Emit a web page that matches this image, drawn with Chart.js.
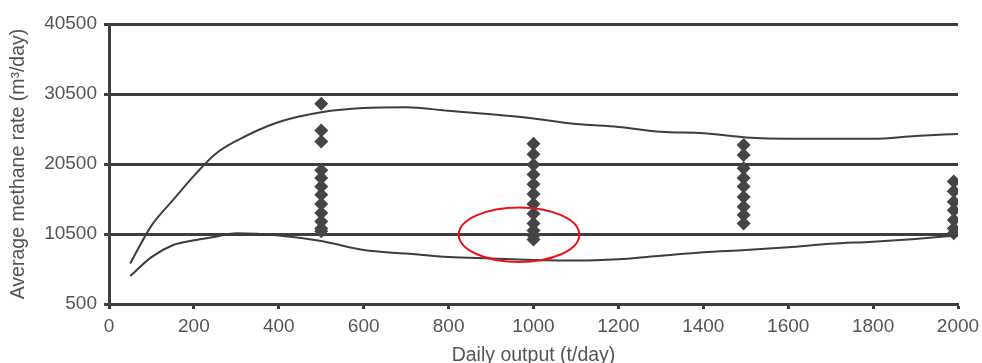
<!DOCTYPE html>
<html>
<head>
<meta charset="utf-8">
<script src="https://cdn.jsdelivr.net/npm/chart.js@4"></script>
<style>
  html, body { margin: 0; padding: 0; background: #fff; }
  #wrap { width: 982px; height: 363px; }
</style>
</head>
<body>
<div id="wrap"><canvas id="methaneChart" width="982" height="363"></canvas></div>
<script>
// curve envelope (x in t/day, y in m3/day)
let curveX = [50, 100, 150, 200, 250, 300, 400, 500, 600, 700, 800, 900, 1000, 1100, 1200, 1300, 1400, 1500, 1600, 1700, 1800, 1900, 2000];
let upperY = [6300, 11700, 15300, 18800, 21900, 23800, 26500, 27900, 28500, 28600, 28100, 27600, 27000, 26200, 25800, 25100, 24900, 24300, 24100, 24100, 24100, 24500, 24800];
let lowerY = [4500, 7200, 8900, 9600, 10100, 10600, 10300, 9500, 8200, 7700, 7200, 7000, 6800, 6700, 6900, 7400, 7900, 8200, 8600, 9100, 9400, 9800, 10300];

// measured points per mine output
let pts500 = [29100, 25300, 23700, 19600, 18500, 17300, 16100, 14800, 13500, 12300, 11300, 10900];
let pts1000 = [23400, 21900, 20400, 19000, 17600, 16200, 14800, 13400, 12000, 11000, 10300, 9700];
let pts1500 = [23200, 21800, 19900, 18500, 17300, 15800, 14400, 13200, 12000];
let pts2000 = [18000, 16600, 15100, 13900, 12500, 11300, 10600];

let yTicks = [500, 10500, 20500, 30500, 40500];

// red highlight ellipse (data units)
let ring = { x: 966, y: 10400, rx: 142, ry: 3900 };

const ink = '#3e3e3e';
const textGrey = '#555555';
const fontFam = 'Liberation Sans, Arial, sans-serif';

function toXY(xs, ys) {
    return xs.map((x, i) => ({ x: x, y: ys[i] }));
}
function column(x, ys) {
    return ys.map(y => ({ x: x, y: y }));
}

let diamonds = [].concat(
    column(500, pts500),
    column(1000, pts1000),
    column(1495, pts1500),
    column(1990, pts2000)
);

// draws the red ring through the scales
const ringPlugin = {
    id: 'ring',
    afterDatasetsDraw(chart) {
        const xs = chart.scales.x, ys = chart.scales.y;
        const cx = xs.getPixelForValue(ring.x);
        const cy = ys.getPixelForValue(ring.y);
        const rx = Math.abs(xs.getPixelForValue(ring.x + ring.rx) - cx);
        const ry = Math.abs(ys.getPixelForValue(ring.y + ring.ry) - cy);
        const c = chart.ctx;
        c.save();
        c.strokeStyle = '#e8141b';
        c.lineWidth = 2;
        c.beginPath();
        c.ellipse(cx, cy, rx, ry, 0, 0, Math.PI * 2);
        c.stroke();
        c.restore();
    }
};

let ctx = document.getElementById('methaneChart').getContext('2d');
let chart = new Chart(ctx, {
    type: 'scatter',
    data: {
        datasets: [
            {
                data: toXY(curveX, upperY),
                showLine: true,
                borderColor: ink,
                borderWidth: 2,
                pointRadius: 0,
                cubicInterpolationMode: 'monotone'
            },
            {
                data: toXY(curveX, lowerY),
                showLine: true,
                borderColor: ink,
                borderWidth: 2,
                pointRadius: 0,
                cubicInterpolationMode: 'monotone'
            },
            {
                data: diamonds,
                pointStyle: 'rectRot',
                pointRadius: 7,
                backgroundColor: '#454548',
                borderColor: '#454548',
                borderWidth: 0
            }
        ]
    },
    options: {
        responsive: false,
        animation: false,
        layout: { padding: { top: 24, right: 24, left: 0, bottom: 0 } },
        plugins: { legend: { display: false }, tooltip: { enabled: false } },
        scales: {
            x: {
                type: 'linear',
                min: 0,
                max: 2000,
                afterFit(scale) {
                    scale.height = 59;
                    scale.paddingLeft = 0;
                    scale.paddingRight = 0;
                },
                ticks: {
                    stepSize: 200,
                    color: textGrey,
                    font: { family: fontFam, size: 19 },
                    padding: 6,
                    maxRotation: 0,
                    callback: v => String(v)
                },
                grid: {
                    drawOnChartArea: false,
                    drawTicks: true,
                    tickLength: 5,
                    tickWidth: 3,
                    tickColor: ink
                },
                border: { display: true, color: ink, width: 3 },
                title: {
                    display: true,
                    text: 'Daily output (t/day)',
                    color: textGrey,
                    font: { family: fontFam, size: 19.5 },
                    padding: { top: 0, bottom: -4 }
                }
            },
            y: {
                min: 500,
                max: 40500,
                afterFit(scale) { scale.width = 109; },
                afterBuildTicks(scale) { scale.ticks = yTicks.map(v => ({ value: v })); },
                ticks: {
                    color: textGrey,
                    font: { family: fontFam, size: 19 },
                    padding: 7,
                    callback: v => String(v)
                },
                grid: {
                    color: ink,
                    lineWidth: 3,
                    tickLength: 5,
                    tickWidth: 3,
                    tickColor: ink
                },
                border: { display: true, color: ink, width: 3 },
                title: {
                    display: true,
                    text: 'Average methane rate (m³/day)',
                    color: textGrey,
                    font: { family: fontFam, size: 19.5 },
                    padding: { top: 7, bottom: 0 }
                }
            }
        }
    },
    plugins: [ringPlugin]
});
</script>
</body>
</html>
